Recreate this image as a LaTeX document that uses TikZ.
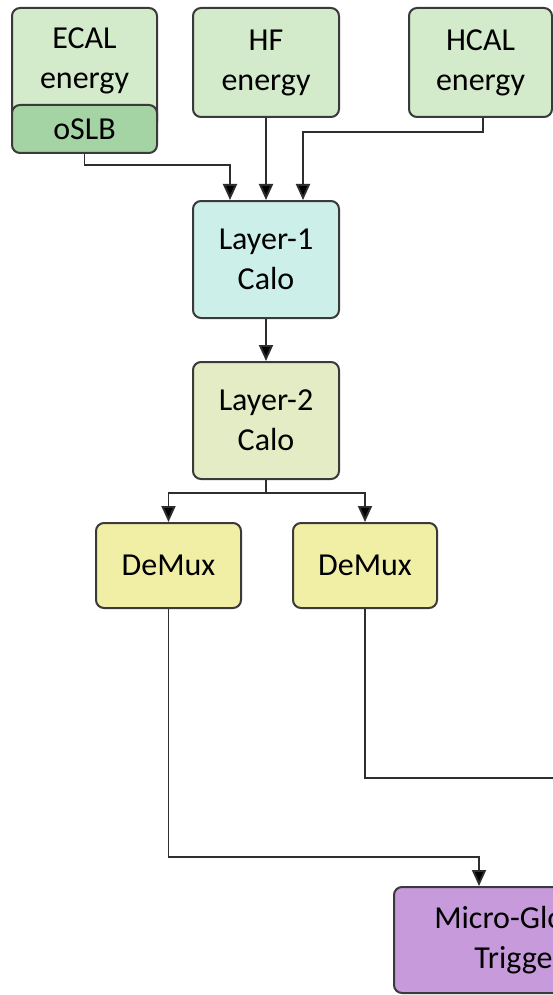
\documentclass[tikz,border=0pt]{standalone}
\usepackage{fontspec}
\setmainfont{Carlito}
\usetikzlibrary{arrows.meta,calc}

\definecolor{inputgreen}{HTML}{D3EACB}
\definecolor{slbgreen}{HTML}{A4D4A4}
\definecolor{layeronecol}{HTML}{CCEFE9}
\definecolor{layertwocol}{HTML}{E3ECC5}
\definecolor{demuxcol}{HTML}{F1EEA6}
\definecolor{ugtcol}{HTML}{C79ADB}
\definecolor{edgecol}{HTML}{3A3A3A}
\definecolor{wirecol}{HTML}{2E2E2E}

\tikzset{
  blockfont/.style={font=\fontsize{32}{40}\selectfont},
  blockbox/.style={draw=edgecol, line width=2pt, rounded corners=8pt,
    align=center, inner sep=0pt, blockfont},
  wire/.style={draw=wirecol, line width=1.9pt},
  feed/.style={wire, -{Triangle[width=14pt,length=16pt,fill=black]}},
}

\begin{document}
\begin{tikzpicture}[x=1pt, y=-1pt]
  \clip (0,0) rectangle (553,995);
  \fill[white] (0,0) rectangle (553,995);

  % input stage
  \node (ecal) [blockbox, fill=inputgreen, minimum width=145pt, minimum height=122pt] at (84.5,69) {};
  \node (ecaltext) [align=center, blockfont] at (84.5,61) {ECAL\\energy};
  \node (oslb) [blockbox, fill=slbgreen, minimum width=145pt, minimum height=48pt] at (84.5,129) {oSLB};
  \node (hf) [blockbox, fill=inputgreen, minimum width=146pt, minimum height=109pt] at (266,62.5) {HF\\energy};
  \node (hcal) [blockbox, fill=inputgreen, minimum width=143pt, minimum height=109pt] at (480.5,62.5) {HCAL\\energy};

  % calorimeter trigger layers
  \node (l1) [blockbox, fill=layeronecol, minimum width=146pt, minimum height=117pt] at (266,259.5) {Layer-1\\Calo};
  \node (l2) [blockbox, fill=layertwocol, minimum width=146pt, minimum height=117pt] at (266,420.5) {Layer-2\\Calo};

  % demultiplexers
  \node (dmxa) [blockbox, fill=demuxcol, minimum width=145pt, minimum height=85pt] at (168.5,565.5) {DeMux};
  \node (dmxb) [blockbox, fill=demuxcol, minimum width=144pt, minimum height=85pt] at (365,565.5) {DeMux};

  % global trigger
  \node (ugt) [blockbox, fill=ugtcol, minimum width=250pt, minimum height=106pt] at (519,940) {Micro-Global\\Trigger};

  % connections into Layer-1
  \draw[feed] (oslb.south) -- (84.5,165) -| (l1.north -| 230,0);
  \draw[feed] (hf.south) -- (l1.north);
  \draw[feed] (hcal.south -| 483,0) -- (483,132) -| (l1.north -| 303,0);

  % Layer-1 to Layer-2
  \draw[feed] (l1.south) -- (l2.north);

  % fan-out to the demultiplexers
  \coordinate (split) at (266,493);
  \draw[wire] (l2.south) -- (split);
  \draw[feed] (split) -| (dmxa.north);
  \draw[feed] (split) -| (dmxb.north);

  % demultiplexer outputs
  \coordinate (exit) at (570,778);
  \draw[feed] (dmxa.south) -- (168.5,857) -| (ugt.north -| 479,0);
  \draw[wire] (dmxb.south) |- (exit);
\end{tikzpicture}
\end{document}
